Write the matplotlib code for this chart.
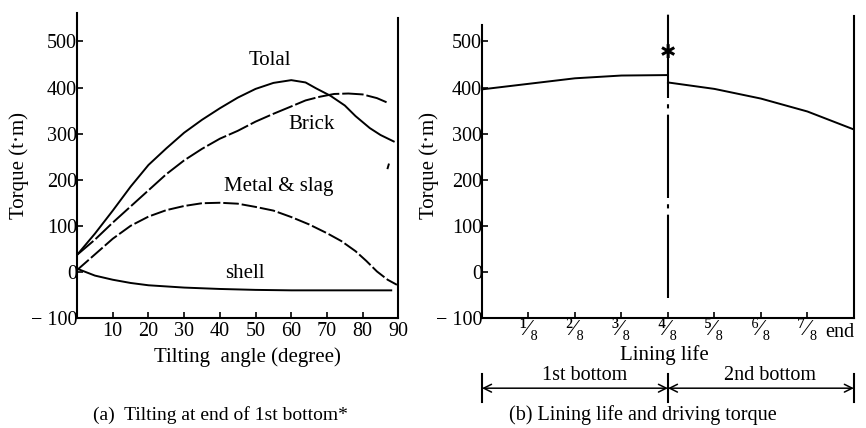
import matplotlib.pyplot as plt
import matplotlib.transforms as mtransforms
import numpy as np

plt.rcParams['font.family'] = ['Liberation Serif', 'DejaVu Serif']
plt.rcParams['font.size'] = 14

# (a) tilting at end of 1st bottom
angle = [0, 5, 10, 15, 20, 25, 30, 35, 40, 45, 50, 55, 60, 64, 67, 71, 75,
         78, 82, 85, 88.7]
total = [37, 83, 133, 185, 232, 268, 302, 330, 355, 378, 397, 410, 416, 411,
         398, 382, 361, 338, 312, 297, 283]

brick_angle = [0, 5, 10, 15, 20, 25, 30, 35, 40, 45, 50, 55, 60, 64, 68, 72,
               76, 80, 84, 87.3]
brick = [37, 70, 107, 142, 177, 212, 242, 267, 289, 306, 326, 343, 359, 372,
         380, 386, 387, 385, 377, 366]

metal_angle = [0, 5, 10, 15, 20, 25, 30, 35, 40, 45, 50, 55, 60, 65, 70, 74,
               78, 81, 84, 87, 89.6]
metal = [4, 38, 72, 100, 120, 134, 143, 149, 150, 148, 141, 133, 119, 103, 84,
         67, 45, 24, 1, -17, -28]

shell_angle = [0, 5, 10, 15, 20, 30, 40, 50, 60, 70, 88]
shell = [7, -8, -17, -24, -29, -34, -37, -39, -40, -40, -40]

# (b) lining life and driving torque
life_1st = [0, 1, 2, 3, 4]
torque_1st = [396, 408, 420, 426, 427]
life_2nd = [4, 5, 6, 7, 8]
torque_2nd = [411, 397, 376, 348, 309]
life_labels = ['¹⁄₈', '²⁄₈', '³⁄₈', '⁴⁄₈', '⁵⁄₈', '⁶⁄₈', '⁷⁄₈', 'end']
ylabels = ['\u2212 100', '0', '100', '200', '300', '400', '500']

fig = plt.figure(figsize=(8.66, 4.28), dpi=100)
ax1 = fig.add_axes([0.089, 0.257, 0.371, 0.713])
ax2 = fig.add_axes([0.5566, 0.257, 0.4294, 0.713])

# ---- left panel
ax1.plot(angle, total, color='k', lw=1.4)
ax1.plot(brick_angle, brick, color='k', lw=1.4, ls=(0, (11, 1.5)))
ax1.plot(metal_angle, metal, color='k', lw=1.4, ls=(0, (8, 1.5)))
ax1.plot(shell_angle, shell, color='k', lw=1.4)
ax1.plot([87.0, 87.3], [225, 233], color='k', lw=1.4)

ax1.text(54, 458, 'Tolal', ha='center', va='center', fontsize=15)
ax1.text(65.7, 319, 'Brick', ha='center', va='center', fontsize=15)
ax1.text(56.4, 186, 'Metal & slag', ha='center', va='center', fontsize=15)
ax1.text(47, -4, 'shell', ha='center', va='center', fontsize=15)

ax1.set_xlim(0, 90)
ax1.set_ylim(-100, 562)
ax1.set_xticks(range(10, 91, 10))
ax1.set_yticks(range(-100, 501, 100))
ax1.set_yticklabels(ylabels)
ax1.spines['top'].set_visible(False)
ax1.spines['right'].set_bounds(-100, 551)
ax1.set_xlabel('Tilting  angle (degree)', fontsize=15)
ax1.xaxis.set_label_coords(0.53, -0.095)
ax1.set_ylabel('Torque (t·m)', fontsize=15, labelpad=1)

# ---- right panel
ax2.plot(life_1st, torque_1st, color='k', lw=1.4)
ax2.plot(life_2nd, torque_2nd, color='k', lw=1.4)
ax2.plot([4, 4], [-56, 565], color='k', lw=1.5, clip_on=False,
         ls=(0, (40, 3, 2, 3)))
ax2.plot([8, 8], [-100, 555], color='k', lw=1.5, clip_on=False)
ax2.text(4, 475, '✱', ha='center', va='center', fontsize=14,
         family=['DejaVu Sans'])

ax2.set_xlim(0, 8)
ax2.set_ylim(-100, 562)
ax2.set_xticks(range(1, 9))
ax2.set_xticklabels(life_labels)
ax2.set_yticks(range(-100, 501, 100))
ax2.set_yticklabels(ylabels)
ax2.spines['top'].set_visible(False)
ax2.spines['right'].set_visible(False)
ax2.spines['left'].set_bounds(-100, 535)
ax2.set_xlabel('Lining life', fontsize=15)
ax2.xaxis.set_label_coords(0.49, -0.088)
ax2.set_ylabel('Torque (t·m)', fontsize=15)
ax2.yaxis.set_label_coords(-0.117, 0.5)

for ax in (ax1, ax2):
    for s in ax.spines.values():
        s.set_linewidth(1.5)
    ax.tick_params(direction='in', length=4, width=1.2, labelsize=14.5, pad=3)
    ax.tick_params(axis='y', pad=0)
ax2.tick_params(axis='x', labelsize=17, pad=0)
end_lab = ax2.get_xticklabels()[-1]
end_lab.set_fontsize(14.5)
end_lab.set_transform(end_lab.get_transform() +
                      mtransforms.ScaledTranslation(-0.14, -0.05,
                                                    fig.dpi_scale_trans))

# bracket under the right panel
trans = ax2.get_xaxis_transform()
yb = -0.23
for xv in (0, 4, 8):
    ax2.plot([xv, xv], [yb - 0.045, yb + 0.045], color='k', lw=1.5,
             transform=trans, clip_on=False)
for x0, x1, lab in ((0, 4, '1st bottom'), (4, 8, '2nd bottom')):
    ax2.annotate('', xy=(x0, yb), xytext=(x1, yb), xycoords=trans,
                 textcoords=trans,
                 arrowprops=dict(arrowstyle='<->', color='k', lw=1.1,
                                 shrinkA=0, shrinkB=0))
    ax2.text((x0 + x1) / 2 + 0.2, yb + 0.012, lab, ha='center', va='bottom',
             fontsize=14.5, transform=trans)

fig.text(0.254, 0.03, '(a)  Tilting at end of 1st bottom*', ha='center',
         va='center', fontsize=14)
fig.text(0.742, 0.03, '(b) Lining life and driving torque', ha='center',
         va='center', fontsize=14.5)

fig.savefig('out.png', dpi=100)
